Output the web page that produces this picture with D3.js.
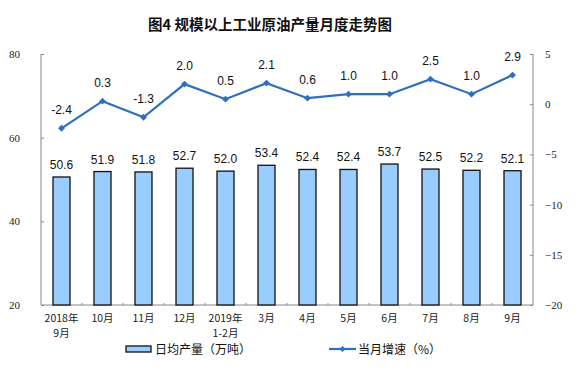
<!DOCTYPE html>
<html><head><meta charset="utf-8">
<script src="https://cdn.jsdelivr.net/npm/d3@7"></script>
<style>body{margin:0;background:#fff}</style>
</head><body>
<svg id="c" width="576" height="384"></svg>
<script>
const categories = ["2018年\n9月","10月","11月","12月","2019年\n1-2月","3月","4月","5月","6月","7月","8月","9月"];
const output = [50.6,51.9,51.8,52.7,52.0,53.4,52.4,52.4,53.7,52.5,52.2,52.1];
const growth = [-2.4,0.3,-1.3,2.0,0.5,2.1,0.6,1.0,1.0,2.5,1.0,2.9];
const leftTicks = [20,40,60,80];
const rightTicks = [-20,-15,-10,-5,0,5];

const svg = d3.select("#c");
const L = 41, R = 533, T = 54, B = 305;
const x = d3.scaleBand().domain(categories).range([L, R]);
const yL = d3.scaleLinear().domain([20, 80]).range([B, T]);
const yR = d3.scaleLinear().domain([-20, 5]).range([B, T]);
const serif = "'Liberation Serif','Times New Roman',serif";
const sans = "'Liberation Sans',Arial,sans-serif";
const cjk = "'Noto Sans CJK SC',sans-serif";

svg.append("text").attr("x", 270).attr("y", 30).attr("text-anchor","middle")
  .attr("font-family", cjk).attr("font-size", 14.5).attr("font-weight","bold").attr("fill","#111")
  .text("图4 规模以上工业原油产量月度走势图");

// left axis
const axL = svg.append("g").attr("transform",`translate(${L},0)`)
  .call(d3.axisRight(yL).tickValues(leftTicks).tickSize(3).tickFormat(d3.format("d")));
axL.select(".domain").attr("stroke","#888").attr("d",`M0,${T}V${B}`);
axL.selectAll(".tick line").attr("stroke","#888");
axL.selectAll(".tick text").attr("x",-21).attr("text-anchor","end").attr("font-family",serif).attr("font-size",11).attr("fill","#222");

// right axis
const axR = svg.append("g").attr("transform",`translate(${R},0)`)
  .call(d3.axisLeft(yR).tickValues(rightTicks).tickSize(3).tickFormat(d3.format("d")));
axR.select(".domain").attr("stroke","#888").attr("d",`M0,${T}V${B}`);
axR.selectAll(".tick line").attr("stroke","#888");
axR.selectAll(".tick text").attr("x",12).attr("text-anchor","start").attr("font-family",serif).attr("font-size",11).attr("fill","#222");

// bottom axis
svg.append("line").attr("x1",L).attr("x2",R).attr("y1",B).attr("y2",B).attr("stroke","#888");
svg.append("g").selectAll("line").data(categories.slice(1)).join("line")
  .attr("x1",d=>x(d)).attr("x2",d=>x(d)).attr("y1",B).attr("y2",B-2).attr("stroke","#888");

// bars
const bw = 17;
svg.append("g").selectAll("rect").data(output).join("rect")
  .attr("x",(d,i)=>x(categories[i])+x.bandwidth()/2-bw/2)
  .attr("y",d=>yL(d)).attr("width",bw).attr("height",d=>B-yL(d))
  .attr("fill","#99CCFF").attr("stroke","#111").attr("stroke-width",1.3);
svg.append("g").selectAll("text").data(output).join("text")
  .attr("x",(d,i)=>x(categories[i])+x.bandwidth()/2).attr("y",d=>yL(d)-8)
  .attr("text-anchor","middle").attr("font-family",sans).attr("font-size",12).attr("fill","#111")
  .text(d=>d.toFixed(1));

// line
const cx = i => x(categories[i]) + x.bandwidth()/2;
svg.append("path").datum(growth)
  .attr("d", d3.line().x((d,i)=>cx(i)).y(d=>yR(d)))
  .attr("fill","none").attr("stroke","#2E6FBE").attr("stroke-width",2.2);
svg.append("g").selectAll("path").data(growth).join("path")
  .attr("d", d3.symbol(d3.symbolDiamond2, 30))
  .attr("transform",(d,i)=>`translate(${cx(i)},${yR(d)})`)
  .attr("fill","#2E6FBE");
svg.append("g").selectAll("text").data(growth).join("text")
  .attr("x",(d,i)=>cx(i)).attr("y",d=>yR(d)-14)
  .attr("text-anchor","middle").attr("font-family",sans).attr("font-size",12).attr("fill","#111")
  .text(d=>d.toFixed(1));

// category labels
const cl = svg.append("g").selectAll("text").data(categories).join("text")
  .attr("x",d=>x(d)+x.bandwidth()/2).attr("y",B+17)
  .attr("text-anchor","middle").attr("font-family",cjk).attr("font-size",10.5).attr("fill","#222");
cl.each(function(d){
  const parts = d.split("\n");
  const t = d3.select(this);
  parts.forEach((p,k)=>t.append("tspan").attr("x",t.attr("x")).attr("dy",k===0?0:15).text(p));
});

// legend
svg.append("rect").attr("x",126).attr("y",346).attr("width",25).attr("height",6)
  .attr("fill","#99CCFF").attr("stroke","#111").attr("stroke-width",1.3);
svg.append("text").attr("x",155).attr("y",354).attr("font-family",cjk).attr("font-size",12).attr("fill","#111").text("日均产量（万吨）");
svg.append("line").attr("x1",329).attr("x2",356).attr("y1",349).attr("y2",349).attr("stroke","#2E6FBE").attr("stroke-width",2.2);
svg.append("path").attr("d",d3.symbol(d3.symbolDiamond2,24)).attr("transform","translate(342.5,349)").attr("fill","#2E6FBE");
svg.append("text").attr("x",358).attr("y",354).attr("font-family",cjk).attr("font-size",12).attr("fill","#111").text("当月增速（%）");
</script>
</body></html>
